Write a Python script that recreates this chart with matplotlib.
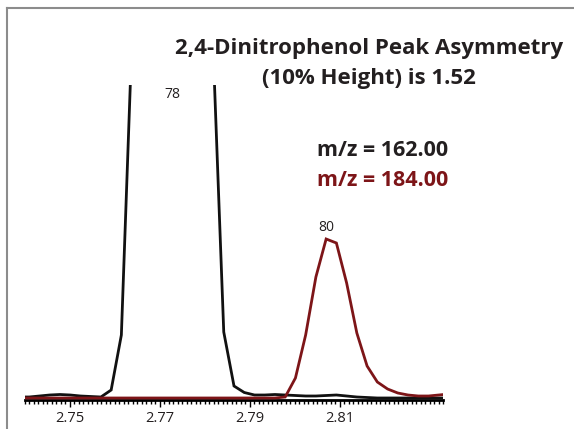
import matplotlib.pyplot as plt
import matplotlib.ticker as ticker
from matplotlib.lines import Line2D
import numpy as np

# retention time (min) of each scan
times = [2.73867, 2.74094, 2.74322, 2.74550, 2.74778, 2.75006, 2.75233, 2.75461,
         2.75689, 2.75917, 2.76144, 2.76372, 2.76600, 2.76828, 2.77056, 2.77283,
         2.77511, 2.77739, 2.77967, 2.78194, 2.78422, 2.78650, 2.78878, 2.79106,
         2.79333, 2.79561, 2.79789, 2.80017, 2.80244, 2.80472, 2.80700, 2.80928,
         2.81156, 2.81383, 2.81611, 2.81839, 2.82067, 2.82294, 2.82522, 2.82750,
         2.82978, 2.83206, 2.83433]

# m/z 162.00 trace (peak runs far off the top of the view)
mz162 = [1, 1, 2, 3, 3.5, 3, 2, 1.5,
         1, 8, 63, 350, 900, 1700, 2300, 2450,
         2100, 1500, 800, 340, 66, 12, 5.5, 3,
         3, 3.5, 3, 2.5, 2, 2, 2.5, 3,
         2, 1, 0.5, 0, 0, 0, 0, 0,
         0, 0, 0]

# m/z 184.00 trace
mz184 = [0, 0, 0, 0, 0, 0, 0, 0,
         0, 0, 0, 0, 0, 0, 0, 0,
         0, 0, 0, 0, 0, 0, 0, 0,
         0, 0, 1, 20, 63, 121, 159, 155,
         115, 65, 32, 16, 9, 5, 3, 2,
         2, 3, 4]

tick_vals = [2.75, 2.77, 2.79, 2.81]
title = "2,4-Dinitrophenol Peak Asymmetry\n(10% Height) is 1.52"
labels = ["m/z = 162.00", "m/z = 184.00"]

dark = "#231f20"
red = "#7d1518"

plt.rcParams['font.family'] = ['Open Sans', 'DejaVu Sans']

fig = plt.figure(figsize=(5.74, 4.29), dpi=100)
ax = fig.add_axes([25 / 574, 1 - 400 / 429, 418 / 574, 315 / 429])

ax.plot(times, mz162, color="#111111", lw=2, solid_joinstyle="miter")
ax.plot(times, mz184, color=red, lw=2, solid_joinstyle="miter")

ax.set_xlim(2.740, 2.833)
ax.set_ylim(-2, 313)

for s in ["left", "top", "right"]:
    ax.spines[s].set_visible(False)
ax.spines["bottom"].set_linewidth(2)
ax.spines["bottom"].set_zorder(0)
ax.set_yticks([])

ax.xaxis.set_major_locator(ticker.FixedLocator(tick_vals))
ax.xaxis.set_major_formatter(ticker.FormatStrFormatter("%.2f"))
ax.xaxis.set_minor_locator(ticker.MultipleLocator(0.001))
ax.tick_params(axis="x", which="major", length=5, width=1, colors="black",
               labelcolor=dark, labelsize=10.5, pad=3)
ax.tick_params(axis="x", which="minor", length=3, width=1, colors="black")

# peak scan labels
i78 = int(np.argmax(mz162))
ax.text(times[i78], 0.97, "78", transform=ax.get_xaxis_transform(),
        ha="center", va="center", fontsize=10, color=dark)
i80 = int(np.argmax(mz184))
ax.annotate("80", (times[i80], mz184[i80]), xytext=(0, 3),
            textcoords="offset points", ha="center", va="bottom",
            fontsize=10, color=dark)

fig.text(0.643, 0.852, title, ha="center", va="center", fontsize=16,
         fontweight="bold", color=dark, linespacing=1.55)
fig.text(0.666, 0.650, labels[0], ha="center", va="center", fontsize=15.5,
         fontweight="bold", color=dark)
fig.text(0.666, 0.580, labels[1], ha="center", va="center", fontsize=15.5,
         fontweight="bold", color=red)

# grey frame on left and top
fig.add_artist(Line2D([7 / 574, 7 / 574], [0, 1 - 8 / 429], color="#8c8c8c", lw=1.5))
fig.add_artist(Line2D([7 / 574, 1], [1 - 8 / 429, 1 - 8 / 429], color="#8c8c8c", lw=1.5))

fig.savefig("out.png", dpi=100)
